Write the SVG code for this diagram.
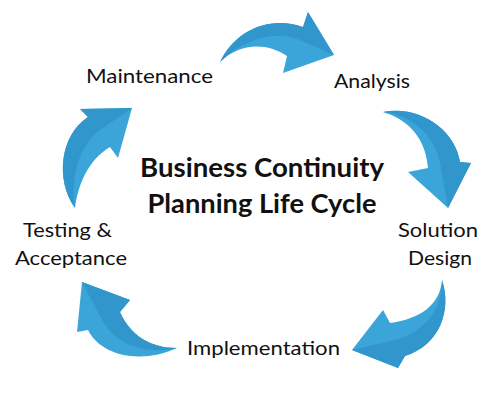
<svg xmlns="http://www.w3.org/2000/svg" width="500" height="404" viewBox="0 0 500 404">
<style>
.arrow{fill:#3ba4d8}
.band{fill:#3196cc}
.lbl{font-family:Lato,"Open Sans","Liberation Sans",sans-serif;font-size:20px;fill:#111}
.title{font-family:Lato,"Open Sans","Liberation Sans",sans-serif;font-size:27px;font-weight:bold;fill:#111;text-anchor:middle}
</style>
<rect width="500" height="404" fill="#fff"/>
<g id="connectors">
<g id="arrow-top">
<path class="arrow" d="M220,62 C235,30 270,15 303,27 L308,12 L334,55 L283,73 L287,56 C265,41 238,44 220,62 Z"/>
<path class="band" d="M220,62 C235,30 270,15 303,27 L308,12 L334,55 L300,40 C275,30 245,38 220,62 Z"/>
</g>
<g id="arrow-right">
<path class="arrow" d="M383,112 C420,105 455,130 460,162 L471,163 L448,208 L408,172 L428,168 C426,140 410,120 383,112 Z"/>
<path class="band" d="M383,112 C420,105 455,130 460,162 L471,163 L448,208 L441,168 C438,140 415,115 383,112 Z"/>
</g>
<g id="arrow-bottom-right">
<path class="arrow" d="M442,280 C452,310 440,345 405,356 L398,368 L352,350 L383,310 L390,323 C420,319 440,305 442,280 Z"/>
<path class="band" d="M442,280 C452,310 440,345 405,356 L398,368 L352,350 L395,340 C425,332 442,310 442,280 Z"/>
</g>
<g id="arrow-bottom-left">
<path class="arrow" d="M82,282 L130,300 L120,312 C130,335 150,348 177,348 C140,365 100,355 88,330 L77,332 Z"/>
<path class="band" d="M120,312 C130,335 150,348 177,348 C145,355 115,345 101,318 L82,282 L130,300 Z"/>
</g>
<g id="arrow-left">
<path class="arrow" d="M132,108 L118,158 L110,147 C88,160 78,185 75,208 C55,180 60,135 88,117 L80,109 Z"/>
<path class="band" d="M75,208 C55,180 60,135 88,117 L80,109 L132,108 L100,130 C80,145 70,175 75,208 Z"/>
</g>
</g>
<g id="title">
<text class="title" x="262" y="177" textLength="244" lengthAdjust="spacingAndGlyphs">Business Continuity</text>
<text class="title" x="262" y="213" textLength="229" lengthAdjust="spacingAndGlyphs">Planning Life Cycle</text>
</g>
<g id="node-maintenance"><text class="lbl" x="86" y="83" textLength="127" lengthAdjust="spacingAndGlyphs">Maintenance</text></g>
<g id="node-analysis"><text class="lbl" x="334" y="88" textLength="76" lengthAdjust="spacingAndGlyphs">Analysis</text></g>
<g id="node-solution-design">
<text class="lbl" x="398" y="237" textLength="80" lengthAdjust="spacingAndGlyphs">Solution</text>
<text class="lbl" x="408" y="265" textLength="64" lengthAdjust="spacingAndGlyphs">Design</text>
</g>
<g id="node-implementation"><text class="lbl" x="187" y="355" textLength="153" lengthAdjust="spacingAndGlyphs">Implementation</text></g>
<g id="node-testing">
<text class="lbl" x="23" y="237" textLength="89" lengthAdjust="spacingAndGlyphs">Testing &amp;</text>
<text class="lbl" x="15" y="265" textLength="112" lengthAdjust="spacingAndGlyphs">Acceptance</text>
</g>
</svg>
